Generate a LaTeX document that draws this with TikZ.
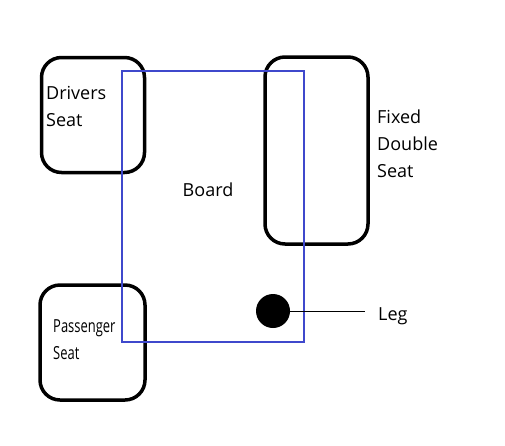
\documentclass[tikz,border=0pt]{standalone}
\usepackage{fontspec}
\setmainfont{Open Sans}
\usepackage{graphicx}
\usetikzlibrary{positioning}
\definecolor{boardblue}{RGB}{63,72,204}
\def\seatW{103}
\def\lineGap{27}

\begin{document}
\begin{tikzpicture}[
    x=1pt, y=-1pt,
    seat/.style={draw, line width=3.5pt, rounded corners=20pt, inner sep=0pt},
    board/.style={draw=boardblue, line width=1.6pt, inner sep=0pt},
    label/.style={align=left, inner sep=0pt, font=\fontsize{18}{\lineGap}\selectfont},
    every node/.style={anchor=center}
]
\useasboundingbox (0,0) rectangle (505,445);
% seats
\node[seat, minimum width=\seatW pt, minimum height=115pt] (drivers) at (93,115) {};
\node[seat, minimum width=105pt, minimum height=115pt] (passenger) at (92.5,342.5) {};
\node[seat, minimum width=\seatW pt, minimum height=187pt] (fixed) at (316.5,150.5) {};
% board
\node[board, minimum width=182pt, minimum height=271pt] (board) at (213,206.5) {};
% leg
\node[circle, fill=black, minimum size=34pt, inner sep=0pt] (leg) at (273,311) {};
\coordinate (legend) at (365,311);
\draw[line width=0.8pt] (leg.center) -- (legend);

% texts
\node[label, anchor=north west] (driversText) at (46,86) {Drivers\\Seat};
\node[label, anchor=north west] (passengerText) at (53,319)
    {\scalebox{0.72}[1]{Passenger}\\\scalebox{0.72}[1]{Seat}};
\node[label, anchor=north west] (fixedText) at (377,110) {Fixed\\Double\\Seat};
\node[label] (boardText) at (208,190) {Board};
\node[label, anchor=west] (legText) at (378,316) {Leg};
\end{tikzpicture}
\end{document}
